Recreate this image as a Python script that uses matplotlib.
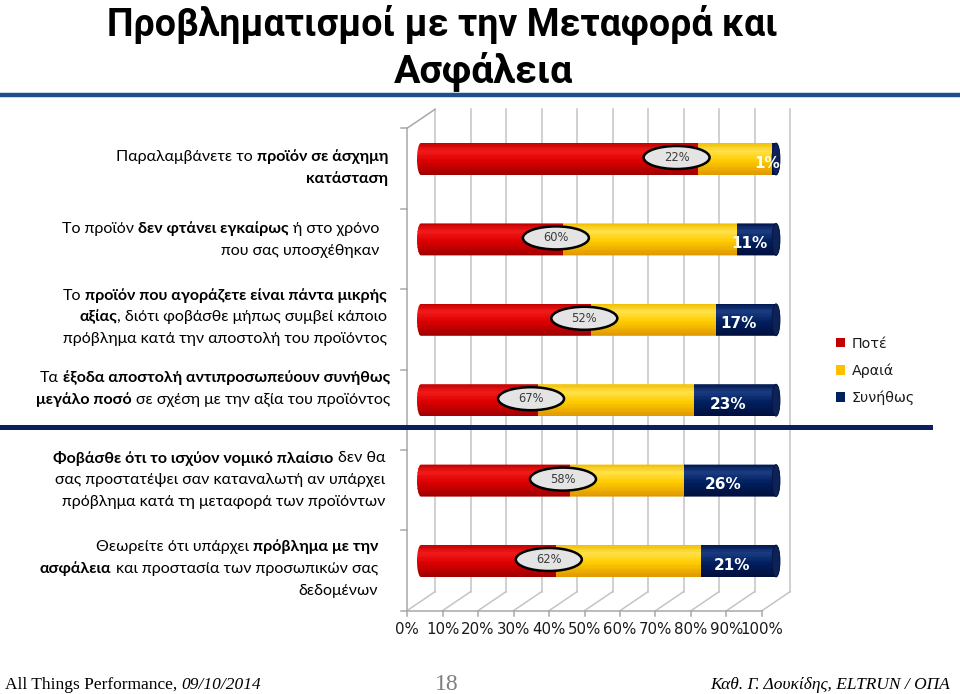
import numpy as np
import matplotlib
matplotlib.use('Agg')
import matplotlib.pyplot as plt
from matplotlib.patches import Ellipse, PathPatch, Patch
from matplotlib.path import Path
from matplotlib.lines import Line2D
from matplotlib.font_manager import FontProperties
import matplotlib.colors as mcolors

# ---------------- data ----------------
categories = [
    "Παραλαμβάνετε το **προϊόν σε άσχημη**\n**κατάσταση**",
    "Το προϊόν **δεν φτάνει εγκαίρως** ή στο χρόνο\nπου σας υποσχέθηκαν",
    "Το **προϊόν που αγοράζετε είναι πάντα μικρής**\n**αξίας**, διότι φοβάσθε μήπως συμβεί κάποιο\nπρόβλημα κατά την αποστολή του προϊόντος",
    "Τα **έξοδα αποστολή αντιπροσωπεύουν συνήθως**\n**μεγάλο ποσό** σε σχέση με την αξία του προϊόντος",
    "**Φοβάσθε ότι το ισχύον νομικό πλαίσιο** δεν θα\nσας προστατέψει σαν καταναλωτή αν υπάρχει\nπρόβλημα κατά τη μεταφορά των προϊόντων",
    "Θεωρείτε ότι υπάρχει **πρόβλημα με την**\n**ασφάλεια** και προστασία των προσωπικών σας\nδεδομένων",
]
series_names = ["Ποτέ", "Αραιά", "Συνήθως"]
never = [78, 40, 48, 33, 42, 38]
rarely = [21, 49, 35, 44, 32, 41]
usually = [1, 11, 17, 23, 26, 21]
xtick_values = [0, 10, 20, 30, 40, 50, 60, 70, 80, 90, 100]
xtick_labels = ["0%", "10%", "20%", "30%", "40%", "50%", "60%", "70%", "80%", "90%", "100%"]
title_lines = ["Προβληματισμοί με την Μεταφορά και", "Ασφάλεια"]
footer_left = ["All Things Performance, ", "09/10/2014"]
footer_page = "18"
footer_right = "Καθ. Γ. Δουκίδης, ELTRUN / ΟΠΑ"

# ---------------- styling ----------------
series_shades = [
    ['#C00000', '#F21A1A', '#DD0000', '#9E0000'],   # red
    ['#F0BE00', '#FFE14A', '#FFCC00', '#DE9600'],   # yellow
    ['#00174D', '#1C3C82', '#002060', '#000F3C'],   # navy
]
legend_colors = ['#C00000', '#FFC000', '#002060']
shade_pos = [0.0, 0.25, 0.55, 1.0]
LABEL_FONT = ['Lato', 'Noto Sans', 'DejaVu Sans']
TITLE_FONT = ['Roboto', 'Liberation Sans', 'DejaVu Sans']
SERIF = ['Liberation Serif', 'DejaVu Serif']

W, H = 960, 694
fig = plt.figure(figsize=(W / 100, H / 100), dpi=100)
fig.patch.set_facecolor('white')
renderer = fig.canvas.get_renderer()


def fx(x):
    return x / W


def fy(y):
    return 1 - y / H


def text_w(s, prop):
    w, _, _ = renderer.get_text_width_height_descent(s, prop, ismath=False)
    return w


def fp(family, size, weight='normal', style='normal'):
    return FontProperties(family=family, size=size, weight=weight, style=style)


# ---------------- title ----------------
ref_prop = fp(TITLE_FONT, 30, 'bold')
tsize = 30 * 671 / text_w(title_lines[0], ref_prop)
fig.text(fx(442), fy(35), title_lines[0], ha='center', va='baseline',
         fontproperties=fp(TITLE_FONT, tsize, 'bold'), color='black')
fig.text(fx(483), fy(82), title_lines[1], ha='center', va='baseline',
         fontproperties=fp(TITLE_FONT, tsize * 1.05, 'bold'), color='black')
fig.add_artist(Line2D([0, 1], [fy(95), fy(95)], color='#1F4E8C', lw=3.2))

# ---------------- chart axes ----------------
AX_L, AX_R, AX_T, AX_B = 380, 800, 100, 645
X0PX, XSCALE = 421, 3.55
Y0PX, YSTEP = 159, 80.4
ax = fig.add_axes([fx(AX_L), fy(AX_B), (AX_R - AX_L) / W, (AX_B - AX_T) / H])
ax.set_xlim((AX_L - X0PX) / XSCALE, (AX_R - X0PX) / XSCALE)
ax.set_ylim((AX_B - Y0PX) / YSTEP, (AX_T - Y0PX) / YSTEP)
ax.axis('off')

n = len(never)
yy = np.arange(n)
dx = 14 / XSCALE
dy = 9.5 / YSTEP
top, bot = -0.5, n - 0.5
grid_c = '#C4C4C4'
axis_c = '#A8A8A8'
for v in xtick_values:
    ax.plot([v + dx, v + dx], [top - dy, bot - dy], color=grid_c, lw=1.1, zorder=1)
    ax.plot([v + dx, v - dx], [bot - dy, bot + dy], color=grid_c, lw=1.1, zorder=1)
    ax.plot([v - dx, v - dx], [bot + dy, bot + dy + 5 / YSTEP], color=axis_c, lw=1.1, zorder=1)
ax.plot([-dx, -dx], [top + dy, bot + dy], color=axis_c, lw=1.1, zorder=1)
ax.plot([-dx, dx], [top + dy, top - dy], color=axis_c, lw=1.1, zorder=1)
ax.plot([-dx, 100 - dx], [bot + dy, bot + dy], color=axis_c, lw=1.1, zorder=1)
for b in np.arange(n + 1) - 0.5:
    ax.plot([-dx - 6 / XSCALE, -dx], [b + dy, b + dy], color=axis_c, lw=1.1, zorder=1)
for v, lab in zip(xtick_values, xtick_labels):
    ax.text(v - dx, bot + dy + 19 / YSTEP, lab, ha='center', va='center',
            fontsize=10.8, family='DejaVu Sans', color='#1A1A1A')

# ---------------- cylinders ----------------
h = 32 / YSTEP
cap = 4 / XSCALE
nstr = 24

clips = []
for i in yy:
    th_l = np.linspace(np.pi / 2, 3 * np.pi / 2, 40)
    th_r = np.linspace(-np.pi / 2, np.pi / 2, 40)
    xs = np.concatenate([0 + cap * np.cos(th_l), 100 + cap * np.cos(th_r)])
    ys = np.concatenate([i - h / 2 * np.sin(th_l), i - h / 2 * np.sin(th_r)])
    verts = np.column_stack([xs, ys])
    verts = np.vstack([verts, verts[:1]])
    codes = [Path.MOVETO] + [Path.LINETO] * (len(verts) - 2) + [Path.CLOSEPOLY]
    clip = PathPatch(Path(verts, codes), transform=ax.transData, fc='none', ec='none')
    clips.append(clip)

never_a = np.array(never, float)
rarely_a = np.array(rarely, float)
usually_a = np.array(usually, float)
seg_lefts = [never_a * 0 - cap, never_a, never_a + rarely_a]
seg_widths = [never_a + cap, rarely_a, usually_a + cap]


def shade(colors, t):
    rgb = np.array([mcolors.to_rgb(c) for c in colors])
    return tuple(np.interp(t, shade_pos, rgb[:, k]) for k in range(3))


for s in range(3):
    for k in range(nstr):
        t = (k + 0.5) / nstr
        col = shade(series_shades[s], t)
        bc = ax.barh(yy - h / 2 + t * h, seg_widths[s], left=seg_lefts[s],
                     height=h / nstr * 1.2, color=col, lw=0, zorder=3)
        for j, p in enumerate(bc.patches):
            p.set_clip_path(clips[j])

for i in yy:
    ax.add_patch(Ellipse((100, i), 2 * cap, h, fc='#0C2258', ec='#061338', lw=0.6, zorder=4))

# ellipse labels (share answering at least rarely)
for i in yy:
    cx = min(never[i] - 2, 72)
    cy = i - 1.5 / YSTEP
    ax.add_patch(Ellipse((cx, cy), 66 / XSCALE, 23 / YSTEP, fc='#E4E4E4', ec='black',
                         lw=1.8, zorder=5))
    ax.text(cx, cy, f"{rarely[i] + usually[i]}%", ha='center', va='center', fontsize=8.3,
            family='DejaVu Sans', color='#3A3A3A', zorder=6)

# navy segment labels
for i in yy:
    cx = never[i] + rarely[i] + usually[i] / 2 - 2
    ax.text(cx, i + 4 / YSTEP, f"{usually[i]}%", ha='center', va='center', fontsize=11,
            fontweight='bold', family='DejaVu Sans', color='white', zorder=6)

# ---------------- legend ----------------
handles = [Patch(fc=c, ec='none') for c in legend_colors]
fig.legend(handles, series_names, loc='upper left', bbox_to_anchor=(fx(830), fy(331)),
           frameon=False, prop=fp('DejaVu Sans', 10.3), handlelength=0.65, handleheight=0.65,
           handletextpad=0.45, labelspacing=0.88, borderaxespad=0, labelcolor='#1A1A1A')

# ---------------- category labels ----------------
p_reg = fp(LABEL_FONT, 12)
p_bold = fp(LABEL_FONT, 12, 'bold')
w_ref = text_w("Παραλαμβάνετε το", p_reg) + text_w(" ", p_reg) + text_w("προϊόν σε άσχημη", p_bold)
lsize = 12 * 273 / w_ref
p_reg = fp(LABEL_FONT, lsize)
p_bold = fp(LABEL_FONT, lsize, 'bold')
space_w = text_w("a a", p_reg) - text_w("aa", p_reg)

label_right = [388, 379, 387, 390, 385, 378]
label_first_center = [157, 229, 295, 378, 458, 547]
line_gap = 21.6


def draw_rich_line(line, x_right, y_center):
    parts = line.split("**")
    pieces = []
    for idx, part in enumerate(parts):
        if part == "":
            continue
        bold = idx % 2 == 1
        prop = p_bold if bold else p_reg
        lead = len(part) - len(part.lstrip(" "))
        trail = len(part) - len(part.rstrip(" "))
        core = part.strip(" ")
        pieces.append((lead, core, trail, prop))
    total = 0
    for lead, core, trail, prop in pieces:
        total += (lead + trail) * space_w + text_w(core, prop)
    x = x_right - total
    for lead, core, trail, prop in pieces:
        x += lead * space_w
        fig.text(fx(x), fy(y_center + 4.5), core, ha='left', va='baseline',
                 fontproperties=prop, color='black')
        x += text_w(core, prop) + trail * space_w


for ci, cat in enumerate(categories):
    for li, line in enumerate(cat.split("\n")):
        draw_rich_line(line, label_right[ci], label_first_center[ci] + li * line_gap)

fig.add_artist(Line2D([0, fx(930)], [fy(427), fy(427)], color='#0B1F5C', lw=3.6))

# ---------------- footer ----------------
f_reg = fp(SERIF, 12.5)
f_it = fp(SERIF, 12.5, style='italic')
fig.text(fx(5), fy(689), footer_left[0].rstrip(), ha='left', va='baseline', fontproperties=f_reg)
x2 = 5 + text_w(footer_left[0].rstrip(), f_reg) + text_w("a a", f_reg) - text_w("aa", f_reg)
fig.text(fx(x2), fy(689), footer_left[1], ha='left', va='baseline', fontproperties=f_it)
fig.text(fx(447), fy(690), footer_page, ha='center', va='baseline',
         fontproperties=fp(SERIF, 17), color='#7F7F7F')
fig.text(fx(950), fy(689), footer_right, ha='right', va='baseline', fontproperties=f_it)

fig.savefig('out.png', dpi=100, facecolor='white')
